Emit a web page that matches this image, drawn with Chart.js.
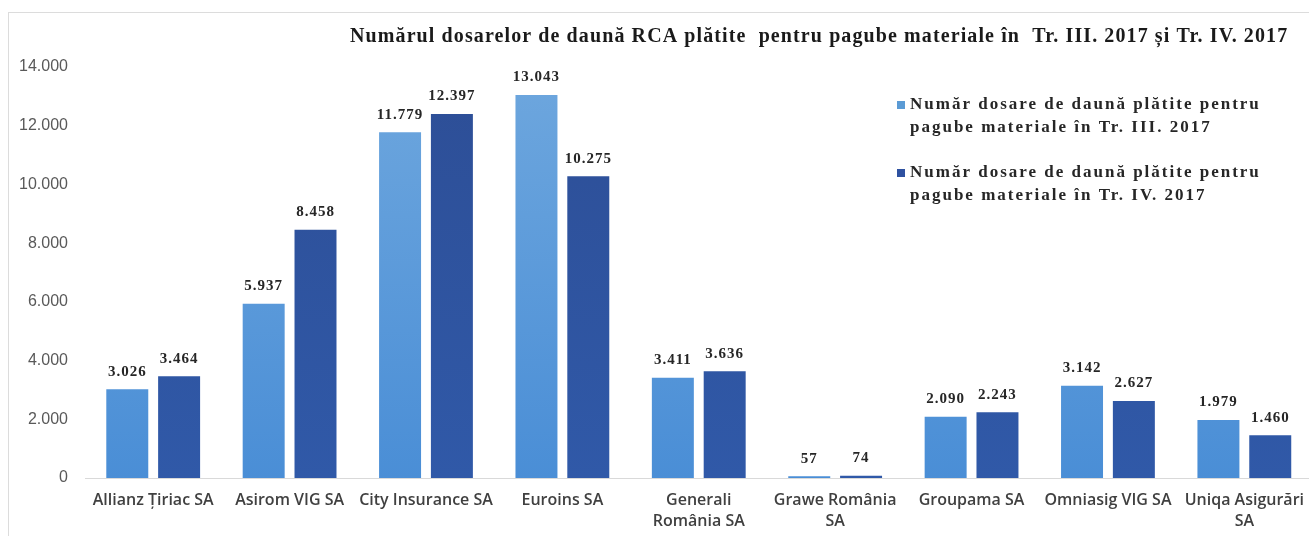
<!DOCTYPE html>
<html>
<head>
<meta charset="utf-8">
<script src="https://cdn.jsdelivr.net/npm/chart.js@4.4.1/dist/chart.umd.min.js"></script>
<style>
  html, body { margin: 0; padding: 0; background: #fff; }
  #wrap { position: relative; width: 1309px; height: 536px; overflow: hidden; }
  #frame { position: absolute; left: 8px; top: 12px; width: 1400px; height: 600px; border: 1px solid #dcdcdc; }
  canvas { position: absolute; left: 0; top: 0; }
</style>
</head>
<body>
<div id="wrap">
  <div id="frame"></div>
  <canvas id="chart" width="1316" height="536"></canvas>
</div>
<script>
// data
const categories = [
  'Allianz Țiriac SA', 'Asirom VIG SA', 'City Insurance SA', 'Euroins SA',
  ['Generali', 'România SA'], ['Grawe România', 'SA'], 'Groupama SA',
  'Omniasig VIG SA', ['Uniqa Asigurări', 'SA']
];
const trimIII = [3026, 5937, 11779, 13043, 3411, 57, 2090, 3142, 1979];
const trimIV  = [3464, 8458, 12397, 10275, 3636, 74, 2243, 2627, 1460];
const seriesNames = [
  ['Număr dosare de daună plătite pentru', 'pagube materiale în Tr. III. 2017'],
  ['Număr dosare de daună plătite pentru', 'pagube materiale în Tr. IV. 2017']
];
const yTicks = [0, 2000, 4000, 6000, 8000, 10000, 12000, 14000];
const chartTitle = 'Numărul dosarelor de daună RCA plătite  pentru pagube materiale în  Tr. III. 2017 și Tr. IV. 2017';

const fmt = v => String(v).replace(/\B(?=(\d{3})+(?!\d))/g, '.');

function grad(ctx, top, bottom) {
  const c = ctx.chart, a = c.chartArea;
  if (!a) return bottom;
  const g = c.ctx.createLinearGradient(0, a.top, 0, a.bottom);
  g.addColorStop(0, top);
  g.addColorStop(1, bottom);
  return g;
}

// value labels above each bar
const valueLabels = {
  id: 'valueLabels',
  afterDatasetsDraw(chart) {
    const ctx = chart.ctx;
    ctx.save();
    ctx.font = 'bold 15px "Liberation Serif"';
    ctx.letterSpacing = '1px';
    ctx.fillStyle = '#262626';
    ctx.textAlign = 'center';
    ctx.textBaseline = 'bottom';
    chart.data.datasets.forEach((ds, i) => {
      chart.getDatasetMeta(i).data.forEach((bar, j) => {
        ctx.fillText(fmt(ds.data[j]), bar.x, bar.y - 10);
      });
    });
    ctx.restore();
  }
};

// title + legend drawn on canvas
const extras = {
  id: 'extras',
  afterDraw(chart) {
    const ctx = chart.ctx;
    ctx.save();
    ctx.fillStyle = '#1a1a1a';
    ctx.textBaseline = 'middle';
    ctx.font = 'bold 20px "Liberation Serif"';
    ctx.letterSpacing = '1.1px';
    ctx.fillText(chartTitle, 350, 37);

    ctx.font = 'bold 17px "Liberation Serif"';
    ctx.letterSpacing = '2px';
    const colors = ['#5b9bd5', '#2e51a0'];
    const ys = [105, 173];
    chart.data.datasets.forEach((ds, i) => {
      ctx.fillStyle = colors[i];
      ctx.fillRect(897, ys[i] - 4, 8, 8);
      ctx.fillStyle = '#262626';
      seriesNames[i].forEach((line, k) => ctx.fillText(line, 910, ys[i] + k * 23));
    });
    ctx.restore();
  }
};

new Chart(document.getElementById('chart'), {
  type: 'bar',
  data: {
    labels: categories,
    datasets: [
      {
        label: seriesNames[0].join(' '),
        data: trimIII,
        backgroundColor: ctx => grad(ctx, '#6ea7de', '#4a8ed6'),
        categoryPercentage: 0.76,
        barPercentage: 0.81
      },
      {
        label: seriesNames[1].join(' '),
        data: trimIV,
        backgroundColor: ctx => grad(ctx, '#2d4e96', '#3059a8'),
        categoryPercentage: 0.76,
        barPercentage: 0.81
      }
    ]
  },
  options: {
    responsive: false,
    animation: false,
    layout: { padding: { top: 67, left: 8, right: 0, bottom: 0 } },
    plugins: {
      legend: { display: false },
      title: { display: false },
      tooltip: { enabled: false }
    },
    scales: {
      x: {
        grid: { display: false, drawTicks: false },
        border: { color: '#d9d9d9', width: 1 },
        ticks: {
          color: '#404040',
          font: { family: '"Open Sans"', size: 16, weight: '600', lineHeight: 1.3 },
          maxRotation: 0,
          autoSkip: false,
          padding: 12
        },
        afterFit(scale) { scale.height = 58; }
      },
      y: {
        min: 0,
        max: 14000,
        afterBuildTicks(scale) { scale.ticks = yTicks.map(v => ({ value: v })); },
        grid: { display: false, drawTicks: false },
        border: { display: false },
        ticks: {
          color: '#595959',
          font: { family: '"Liberation Sans"', size: 16 },
          padding: 17,
          callback: v => fmt(v)
        },
        afterFit(scale) { scale.width = 77; }
      }
    }
  },
  plugins: [valueLabels, extras]
});
</script>
</body>
</html>
